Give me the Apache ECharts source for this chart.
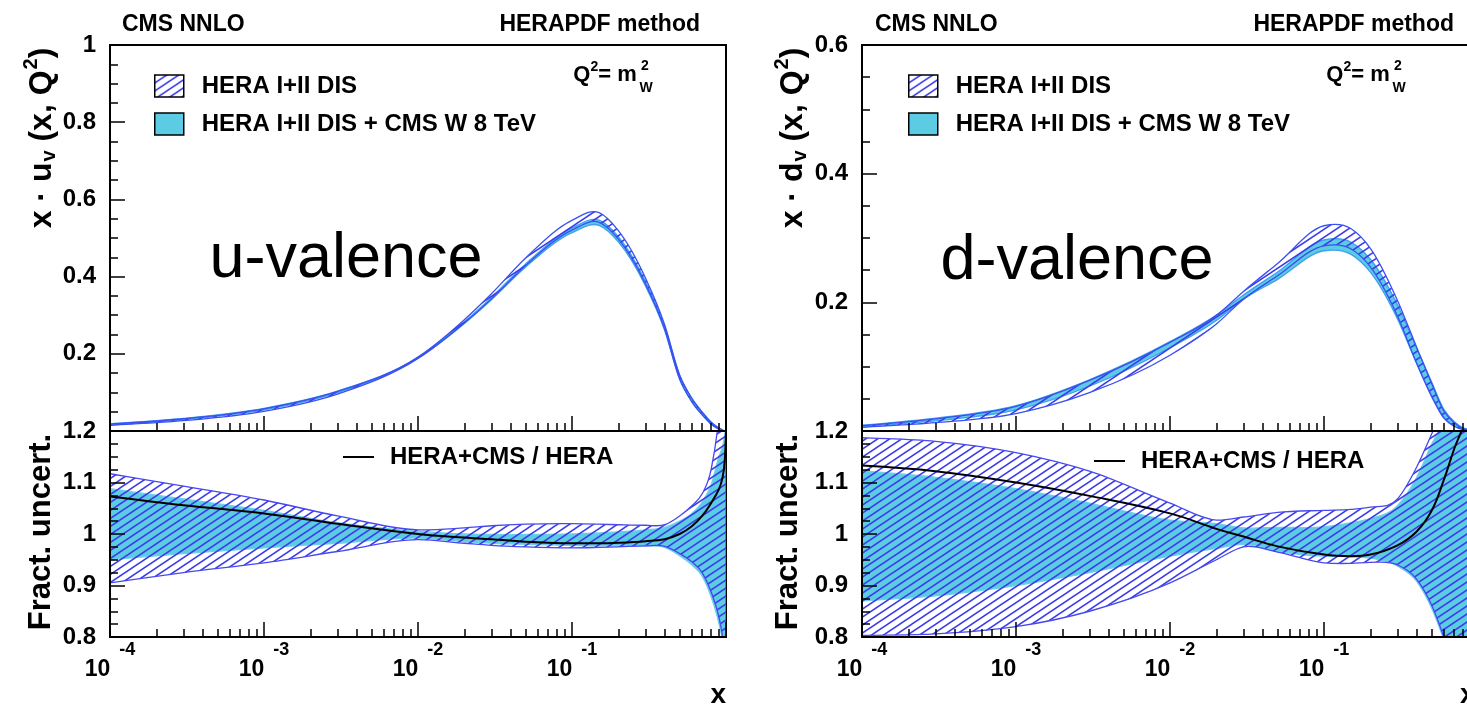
<!DOCTYPE html>
<html>
<head>
<meta charset="utf-8">
<title>CMS NNLO valence PDFs</title>
<script src="https://cdn.jsdelivr.net/npm/echarts@6/dist/echarts.min.js"></script>
<style>
  html, body { margin: 0; padding: 0; background: #fff; }
  #main { width: 1467px; height: 705px; }
</style>
</head>
<body>
<div id="main"></div>
<script>
const xs = [0.0001, 0.0003, 0.001, 0.003, 0.01, 0.02, 0.03, 0.05, 0.1, 0.15, 0.2, 0.3, 0.4, 0.5, 0.6, 0.7, 0.8, 0.9, 0.95, 0.98, 1.0];

// u-valence: x*u_v of HERA fit, ratio of centrals, fractional uncertainties
const uCentral = [0.016, 0.029, 0.054, 0.099, 0.19, 0.285, 0.35, 0.44, 0.535, 0.555, 0.51, 0.39, 0.27, 0.14, 0.08, 0.045, 0.02, 0.006, 0.002, 0.0005, 0];
const uRatio   = [1.073, 1.056, 1.04, 1.02, 1.0, 0.993, 0.99, 0.985, 0.982, 0.982, 0.983, 0.986, 0.99, 1.0, 1.015, 1.035, 1.06, 1.087, 1.11, 1.14, 1.2];
const uHeraHi  = [1.117, 1.093, 1.066, 1.035, 1.008, 1.012, 1.016, 1.019, 1.02, 1.019, 1.018, 1.017, 1.018, 1.035, 1.055, 1.078, 1.125, 1.23, 1.32, 1.38, 1.45];
const uHeraLo  = [0.905, 0.925, 0.944, 0.966, 0.989, 0.982, 0.978, 0.975, 0.973, 0.974, 0.975, 0.977, 0.976, 0.962, 0.946, 0.925, 0.888, 0.838, 0.80, 0.76, 0.70];
const uCmsHi   = [1.088, 1.068, 1.046, 1.022, 1.005, 1.0, 0.999, 0.999, 1.0, 1.002, 1.004, 1.008, 1.013, 1.025, 1.04, 1.062, 1.095, 1.15, 1.17, 1.19, 1.21];
const uCmsLo   = [0.95, 0.962, 0.973, 0.982, 0.992, 0.985, 0.982, 0.98, 0.978, 0.977, 0.977, 0.977, 0.974, 0.958, 0.94, 0.918, 0.878, 0.826, 0.79, 0.75, 0.69];

// d-valence
const dCentral = [0.007, 0.016, 0.033, 0.07, 0.13, 0.175, 0.21, 0.25, 0.305, 0.30, 0.27, 0.19, 0.115, 0.062, 0.025, 0.01, 0.003, 0.001, 0, 0, 0];
const dRatio   = [1.133, 1.122, 1.10, 1.074, 1.04, 1.01, 0.995, 0.976, 0.96, 0.957, 0.96, 0.978, 1.005, 1.045, 1.105, 1.165, 1.21, 1.28, 1.32, 1.35, 1.4];
const dHeraHi  = [1.187, 1.18, 1.158, 1.122, 1.06, 1.027, 1.033, 1.042, 1.046, 1.048, 1.052, 1.068, 1.13, 1.194, 1.25, 1.3, 1.35, 1.4, 1.45, 1.5, 1.55];
const dHeraLo  = [0.803, 0.806, 0.82, 0.85, 0.905, 0.95, 0.975, 0.965, 0.944, 0.943, 0.945, 0.94, 0.912, 0.862, 0.80, 0.74, 0.68, 0.62, 0.58, 0.55, 0.5];
const dCmsHi   = [1.123, 1.11, 1.088, 1.06, 1.027, 1.02, 1.012, 1.013, 1.014, 1.022, 1.03, 1.055, 1.11, 1.174, 1.22, 1.27, 1.32, 1.37, 1.42, 1.47, 1.52];
const dCmsLo   = [0.87, 0.88, 0.90, 0.925, 0.957, 0.972, 0.98, 0.966, 0.957, 0.956, 0.953, 0.938, 0.908, 0.856, 0.795, 0.735, 0.675, 0.615, 0.575, 0.545, 0.495];

const minorMultiples = [2, 3, 4, 5, 6, 7, 8, 9];
const decades = [-4, -3, -2, -1];

const HERA = 'HERA I+II DIS';
const CMS = 'HERA I+II DIS + CMS W 8 TeV';
const RATIO = 'HERA+CMS / HERA';
const FONT = '"Liberation Sans", Arial, Helvetica, sans-serif';
const CYAN = '#5ccbe4';
const HATCH = '#3b3bea';

function makeHatch(bg) {
  const w = 12, h = 8;
  const c = document.createElement('canvas');
  c.width = w; c.height = h;
  const ctx = c.getContext('2d');
  if (bg) { ctx.fillStyle = bg; ctx.fillRect(0, 0, w, h); }
  ctx.strokeStyle = HATCH;
  ctx.lineWidth = 1.5;
  for (const dy of [-h, 0, h]) {
    ctx.beginPath();
    ctx.moveTo(-1, h + dy + 8 / 12);
    ctx.lineTo(w + 1, dy - 8 / 12);
    ctx.stroke();
  }
  return c;
}
const hatchFill = { image: makeHatch(null), repeat: 'repeat' };
const hatchLegend = { image: makeHatch('#fff'), repeat: 'repeat' };

// cubic curve through pixel points, parametrised by x so it never loops back;
// slopes from the parabola through each point and its two neighbours
function curveThrough(pts) {
  const n = pts.length;
  const sec = [];
  for (let k = 0; k < n - 1; k++) sec.push((pts[k + 1][1] - pts[k][1]) / (pts[k + 1][0] - pts[k][0]));
  const slope = pts.map((p, k) => {
    if (k === 0) return sec[0];
    if (k === n - 1) return sec[n - 2];
    const d0 = Math.abs(p[0] - pts[k - 1][0]), d1 = Math.abs(pts[k + 1][0] - p[0]);
    return (d1 * sec[k - 1] + d0 * sec[k]) / (d0 + d1);
  });
  let d = '';
  for (let k = 0; k < n - 1; k++) {
    const p = pts[k], q = pts[k + 1], h = (q[0] - p[0]) / 3;
    d += ' C' + (p[0] + h) + ',' + (p[1] + slope[k] * h) + ' ' +
         (q[0] - h) + ',' + (q[1] - slope[k + 1] * h) + ' ' + q[0] + ',' + q[1];
  }
  return d;
}

// band between hi and lo, positioned through the axes of one grid
function band(name, axis, hi, lo, fill, stroke, z) {
  return {
    type: 'custom', name, xAxisIndex: axis, yAxisIndex: axis, z,
    data: [[0.01, 1]],
    renderItem(params, api) {
      const top = xs.map((x, i) => api.coord([x, hi[i]]));
      const bottom = xs.map((x, i) => api.coord([x, lo[i]])).reverse();
      const d = 'M' + top[0][0] + ',' + top[0][1] + curveThrough(top) +
                ' L' + bottom[0][0] + ',' + bottom[0][1] + curveThrough(bottom) + ' Z';
      const cs = params.coordSys;
      return {
        type: 'path',
        shape: { pathData: d },
        style: { fill, stroke, lineWidth: 1.3 },
        clipPath: { type: 'rect', shape: { x: cs.x, y: cs.y, width: cs.width, height: cs.height } }
      };
    }
  };
}

function ratioLine(axis, ratio) {
  return {
    type: 'line', name: RATIO, xAxisIndex: axis, yAxisIndex: axis, z: 6,
    data: xs.map((x, i) => [x, ratio[i]]),
    smooth: 0.4, symbol: 'none',
    lineStyle: { color: '#000', width: 2 },
    itemStyle: { color: '#000' }
  };
}

function panelSeries(top, bottom, central, ratio, heraHi, heraLo, cmsHi, cmsLo) {
  const upHeraHi = central.map((c, i) => c * heraHi[i]);
  const upHeraLo = central.map((c, i) => c * heraLo[i]);
  const upCmsHi = central.map((c, i) => c * ratio[i] * cmsHi[i]);
  const upCmsLo = central.map((c, i) => c * ratio[i] * cmsLo[i]);
  return [
    band(CMS, top, upCmsHi, upCmsLo, CYAN, '#3f9ff0', 3),
    band(HERA, top, upHeraHi, upHeraLo, hatchFill, '#3a50f0', 4),
    band(CMS, bottom, cmsHi, cmsLo, CYAN, '#6ccfea', 3),
    band(HERA, bottom, heraHi, heraLo, hatchFill, '#4848f0', 4),
    ratioLine(bottom, ratio)
  ];
}

const grids = [
  { left: 110, top: 45, width: 616, height: 386 },
  { left: 110, top: 431, width: 616, height: 206 },
  { left: 862, top: 45, width: 616, height: 386 },
  { left: 862, top: 431, width: 616, height: 206 }
].map(g => Object.assign({
  show: true, borderColor: '#000', borderWidth: 2, containLabel: false, outerBoundsMode: 'none'
}, g));

const labelFont = { color: '#000', fontFamily: FONT, fontWeight: 'bold', fontSize: 24 };

function mainX(gridIndex, showLabels) {
  return {
    type: 'log', logBase: 10, gridIndex, min: 0.0001, max: 1, z: 10, position: 'bottom',
    axisLine: { onZero: false, lineStyle: { color: '#000', width: 2 } },
    axisTick: { inside: true, length: 15, lineStyle: { color: '#000', width: 1.5 } },
    splitLine: { show: false },
    axisLabel: {
      show: showLabels, margin: 4,
      formatter: v => {
        const e = Math.round(Math.log10(v));
        return e >= 0 ? '' : '{b|10}{s|' + e + '}';
      },
      rich: {
        b: { fontFamily: FONT, fontWeight: 'bold', fontSize: 23, color: '#000', lineHeight: 40, verticalAlign: 'bottom' },
        s: { fontFamily: FONT, fontWeight: 'bold', fontSize: 18, color: '#000', lineHeight: 20, verticalAlign: 'top', padding: [0, 0, 0, 9] }
      }
    }
  };
}

function minorX(gridIndex) {
  const vals = [];
  decades.forEach(d => minorMultiples.forEach(m => vals.push(d + Math.log10(m))));
  return {
    type: 'value', gridIndex, min: -4, max: 0, z: 10, position: 'bottom',
    axisLine: { show: false, onZero: false },
    axisLabel: { show: false },
    splitLine: { show: false },
    axisTick: { show: true, inside: true, length: 8, customValues: vals, lineStyle: { color: '#000', width: 1.5 } }
  };
}

function yAxis(gridIndex, min, max, interval, hideZero) {
  return {
    type: 'value', gridIndex, min, max, interval, z: 10, position: 'left',
    axisLine: { show: true, onZero: false, lineStyle: { color: '#000', width: 2 } },
    axisTick: { show: true, inside: true, length: 15, lineStyle: { color: '#000', width: 1.5 } },
    minorTick: { show: true, splitNumber: 4, length: 8, lineStyle: { color: '#000', width: 1.5 } },
    splitLine: { show: false },
    axisLabel: Object.assign({ margin: 14, formatter: v => (hideZero && v === 0 ? '' : String(+v.toFixed(2))) }, labelFont)
  };
}

function txt(text, x, y, size, align, extra) {
  return Object.assign({
    type: 'text', x, y, z: 20,
    style: {
      text, fill: '#000', font: 'bold ' + size + 'px ' + FONT,
      align, textAlign: align, verticalAlign: 'middle', textVerticalAlign: 'middle'
    }
  }, extra || {});
}

function richTxt(text, x, y, rich, rotation) {
  return {
    type: 'text', x, y, rotation: rotation || 0, z: 20,
    style: { text, rich, fill: '#000', align: 'center', textAlign: 'center', verticalAlign: 'middle', textVerticalAlign: 'middle' }
  };
}

const titleRich = {
  t: { fontFamily: FONT, fontWeight: 'bold', fontSize: 32, color: '#000', lineHeight: 46 },
  sub: { fontFamily: FONT, fontWeight: 'bold', fontSize: 20, color: '#000', lineHeight: 20, verticalAlign: 'bottom', padding: [0, 0, 6, 1] },
  sup: { fontFamily: FONT, fontWeight: 'bold', fontSize: 20, color: '#000', lineHeight: 20, verticalAlign: 'top', padding: [2, 0, 0, 1] }
};
const qRich = {
  q: { fontFamily: FONT, fontWeight: 'bold', fontSize: 22, color: '#000', lineHeight: 30 },
  s: { fontFamily: FONT, fontWeight: 'bold', fontSize: 14, color: '#000', lineHeight: 14, verticalAlign: 'top' }
};

function legendTop(left) {
  return {
    left, top: 73, orient: 'vertical', icon: 'rect', itemWidth: 29, itemHeight: 22, itemGap: 12,
    padding: 0, selectedMode: false,
    textStyle: { color: '#000', fontFamily: FONT, fontWeight: 'bold', fontSize: 24, lineHeight: 26, padding: [0, 0, 0, 13] },
    data: [
      { name: HERA, itemStyle: { color: hatchLegend, borderColor: '#000', borderWidth: 1.5 } },
      { name: CMS, itemStyle: { color: CYAN, borderColor: '#000', borderWidth: 1.5 } }
    ]
  };
}
function legendRatio(left, top) {
  return {
    left, top, icon: 'rect', itemWidth: 31, itemHeight: 2, padding: 0, selectedMode: false,
    textStyle: { color: '#000', fontFamily: FONT, fontWeight: 'bold', fontSize: 24, lineHeight: 26, padding: [0, 0, 0, 11] },
    data: [{ name: RATIO, itemStyle: { color: '#000' } }]
  };
}

const chart = echarts.init(document.getElementById('main'), null, { renderer: 'canvas' });
chart.setOption({
  animation: false,
  backgroundColor: '#fff',
  grid: grids,
  xAxis: [mainX(0, false), mainX(1, true), mainX(2, false), mainX(3, true), minorX(0), minorX(1), minorX(2), minorX(3)],
  yAxis: [yAxis(0, 0, 1, 0.2, true), yAxis(1, 0.8, 1.2, 0.1, false), yAxis(2, 0, 0.6, 0.2, true), yAxis(3, 0.8, 1.2, 0.1, false)],
  legend: [legendTop(154), legendTop(908), legendRatio(343, 444), legendRatio(1094, 448)],
  series: [].concat(
    panelSeries(0, 1, uCentral, uRatio, uHeraHi, uHeraLo, uCmsHi, uCmsLo),
    panelSeries(2, 3, dCentral, dRatio, dHeraHi, dHeraLo, dCmsHi, dCmsLo)
  ),
  graphic: [
    txt('CMS NNLO', 122, 25, 23, 'left'),
    txt('HERAPDF method', 700, 25, 23, 'right'),
    txt('CMS NNLO', 875, 25, 23, 'left'),
    txt('HERAPDF method', 1454, 25, 23, 'right'),
    richTxt('{q|Q}{s|2}{q|= m}', 605, 75, qRich),
    txt('2', 645, 66, 14, 'center'),
    txt('W', 646, 88, 14, 'center'),
    richTxt('{q|Q}{s|2}{q|= m}', 1358, 75, qRich),
    txt('2', 1398, 66, 14, 'center'),
    txt('W', 1399, 88, 14, 'center'),
    {
      type: 'text', x: 346, y: 260, z: 20,
      style: { text: 'u-valence', fill: '#000', font: '63px ' + FONT, align: 'center', textAlign: 'center', verticalAlign: 'middle', textVerticalAlign: 'middle' }
    },
    {
      type: 'text', x: 1077, y: 262, z: 20,
      style: { text: 'd-valence', fill: '#000', font: '63px ' + FONT, align: 'center', textAlign: 'center', verticalAlign: 'middle', textVerticalAlign: 'middle' }
    },
    richTxt('{t|x · u}{sub|v}{t| (x, Q}{sup|2}{t|)}', 42, 138, titleRich, Math.PI / 2),
    richTxt('{t|x · d}{sub|v}{t| (x, Q}{sup|2}{t|)}', 793, 138, titleRich, Math.PI / 2),
    txt('Fract. uncert.', 41, 532, 31, 'center', { rotation: Math.PI / 2 }),
    txt('Fract. uncert.', 788, 532, 31, 'center', { rotation: Math.PI / 2 }),
    txt('x', 726, 695, 28, 'right'),
    txt('x', 1460, 695, 28, 'left')
  ]
});
</script>
</body>
</html>
